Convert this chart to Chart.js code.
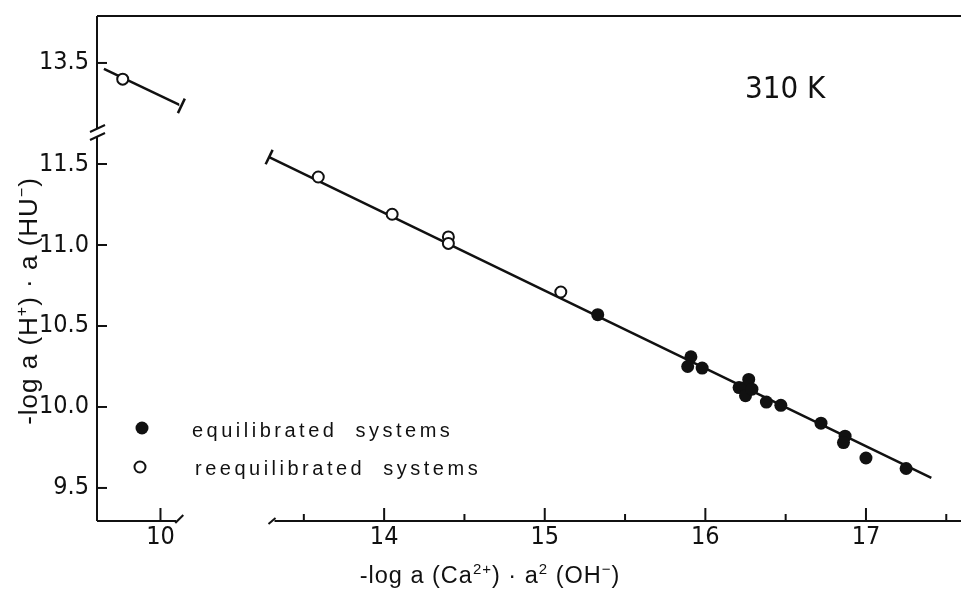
<!DOCTYPE html>
<html>
<head>
<meta charset="utf-8">
<script src="https://cdn.jsdelivr.net/npm/chart.js@4.4.1/dist/chart.umd.min.js"></script>
<style>
  html, body { margin: 0; padding: 0; background: #fff; }
  #wrap { position: relative; width: 961px; height: 591px; }
</style>
</head>
<body>
<div id="wrap"><canvas id="chart" width="961" height="591"></canvas></div>
<script>
// Values
const EQ_X = [15.33, 15.91, 15.89, 15.98, 16.21, 16.25, 16.27, 16.25, 16.29, 16.38, 16.47, 16.72, 16.87, 16.86, 17.00, 17.25];
const EQ_Y = [10.57, 10.31, 10.25, 10.24, 10.12, 10.12, 10.17, 10.07, 10.11, 10.03, 10.01, 9.90, 9.82, 9.78, 9.685, 9.62];
const REEQ_X = [13.59, 14.05, 14.40, 14.40, 15.10];
const REEQ_Y = [11.42, 11.19, 11.05, 11.01, 10.71];
// the one reequilibrated point that sits in the upper-left broken region
const REEQ_TOP_X = [9.765];
const REEQ_TOP_Y = [13.40];
// regression line (end points)
const FIT_X = [13.284, 17.407];
const FIT_Y = [11.543, 9.562];
const FIT_TOP_X = [9.648, 10.13];
const FIT_TOP_Y = [13.463, 13.235];

// Tick positions
const Y_TICKS = [9.5, 10.0, 10.5, 11.0, 11.5];
const Y_TOP_TICKS = [13.5];
const X_TICKS = [13.5, 14, 14.5, 15, 15.5, 16, 16.5, 17, 17.5];
const X_LEFT_TICKS = [10];

const INK = '#111';
const NARROW = "'Liberation Sans Narrow', 'DejaVu Sans Condensed', 'Liberation Sans', sans-serif";
const SANS = "'Liberation Sans', 'DejaVu Sans', sans-serif";

const pts = (xs, ys) => xs.map((x, i) => ({ x, y: ys[i] }));
const setTicks = list => scale => { scale.ticks = list.map(v => ({ value: v })); };

// fixed axis sizes, and no extra room for labels hanging over the ends
const fitX = sc => { sc.height = 70; sc.paddingLeft = 0; sc.paddingRight = 0; };
const fitY = sc => { sc.width = 97; sc.paddingTop = 0; sc.paddingBottom = 0; };

// draw text made of normal and superscript parts, centred on (x, y)
function richText(ctx, parts, x, y, size, angle) {
  ctx.save();
  ctx.translate(x, y);
  ctx.rotate(angle);
  ctx.letterSpacing = '1px';
  const big = size + 'px ' + SANS;
  const small = Math.round(size * 0.62) + 'px ' + SANS;
  let w = 0;
  parts.forEach(([t, sup]) => { ctx.font = sup ? small : big; w += ctx.measureText(t).width; });
  let cx = -w / 2;
  ctx.textAlign = 'left';
  ctx.textBaseline = 'alphabetic';
  ctx.fillStyle = INK;
  parts.forEach(([t, sup]) => {
    ctx.font = sup ? small : big;
    ctx.fillText(t, cx, sup ? -size * 0.4 : 0);
    cx += ctx.measureText(t).width;
  });
  ctx.restore();
}

function line(ctx, x0, y0, x1, y1) {
  ctx.beginPath();
  ctx.moveTo(x0, y0);
  ctx.lineTo(x1, y1);
  ctx.stroke();
}

// little bar across the end of a fitted line segment
function cap(ctx, meta, at, from) {
  const p = meta.data[at], q = meta.data[from];
  const dx = p.x - q.x, dy = p.y - q.y, len = Math.hypot(dx, dy);
  const nx = -dy / len * 8, ny = dx / len * 8;
  line(ctx, p.x - nx, p.y - ny, p.x + nx, p.y + ny);
}

const decor = {
  id: 'decor',
  afterDraw(chart) {
    const { ctx, chartArea: a, scales: s } = chart;
    const edge = chart.width;
    ctx.save();
    ctx.strokeStyle = INK;
    ctx.lineWidth = 2;
    ctx.lineCap = 'butt';

    // frame: top edge and y axis with a break between the two y ranges
    const brk = s.yTop.bottom;
    line(ctx, a.left, a.top, edge, a.top);
    line(ctx, a.left, a.top, a.left, brk - 2);
    line(ctx, a.left, brk + 6, a.left, a.bottom);
    line(ctx, a.left - 7, brk + 2, a.left + 8, brk - 5);
    line(ctx, a.left - 7, brk + 10, a.left + 8, brk + 3);

    // x axis in two pieces
    const xl = s.xL, xr = s.xR;
    line(ctx, a.left, a.bottom, xl.right - 3, a.bottom);
    line(ctx, xl.right - 4, a.bottom + 2, xl.right + 4, a.bottom - 6);
    line(ctx, xr.left + 6, a.bottom, edge, a.bottom);
    line(ctx, xr.left, a.bottom + 3, xr.left + 7, a.bottom - 3);

    // inward ticks
    [s.y, s.yTop].forEach(sc => sc.ticks.forEach(t => {
      const py = sc.getPixelForValue(t.value);
      line(ctx, a.left, py, a.left + 10, py);
    }));
    [xl, xr].forEach(sc => sc.ticks.forEach(t => {
      const px = sc.getPixelForValue(t.value);
      const len = Number.isInteger(t.value) ? 13 : 7;
      line(ctx, px, a.bottom, px, a.bottom - len);
    }));

    // end bars of the fitted line
    ctx.lineWidth = 2.5;
    cap(ctx, chart.getDatasetMeta(0), 0, 1);
    cap(ctx, chart.getDatasetMeta(1), 1, 0);

    // legend
    ctx.fillStyle = INK;
    ctx.beginPath();
    ctx.arc(142, 428, 6.5, 0, Math.PI * 2);
    ctx.fill();
    ctx.lineWidth = 2;
    ctx.beginPath();
    ctx.arc(140, 467, 5.5, 0, Math.PI * 2);
    ctx.stroke();
    ctx.font = '20px ' + SANS;
    ctx.letterSpacing = '3.5px';
    ctx.textAlign = 'left';
    ctx.textBaseline = 'alphabetic';
    ctx.fillText('equilibrated  systems', 192, 437);
    ctx.fillText('reequilibrated  systems', 195, 475);

    // temperature label
    ctx.font = '31px ' + NARROW;
    ctx.letterSpacing = '0px';
    ctx.fillText('310 K', 745, 98);
    ctx.restore();

    // axis titles
    richText(ctx, [['-log a (H', 0], ['+', 1], [') \u00b7 a (HU', 0], ['\u2212', 1], [')', 0]],
      37, 301, 26, -Math.PI / 2);
    richText(ctx, [['-log a (Ca', 0], ['2+', 1], [') \u00b7 a', 0], ['2', 1], [' (OH', 0], ['\u2212', 1], [')', 0]],
      490, 583, 23.5, 0);
  }
};

const tickFont = { family: NARROW, size: 25 };
const xTickOpts = {
  font: tickFont, color: INK, padding: 1, autoSkip: false, maxRotation: 0,
  callback: v => Number.isInteger(v) ? String(v) : ''
};
const yTickOpts = { font: tickFont, color: INK, padding: 8, callback: v => v.toFixed(1) };
const noGrid = { display: false, drawTicks: false };
const noBorder = { display: false };

new Chart(document.getElementById('chart'), {
  type: 'scatter',
  data: {
    datasets: [
      { label: 'fit', data: pts(FIT_X, FIT_Y), xAxisID: 'xR', yAxisID: 'y',
        showLine: true, borderColor: INK, borderWidth: 2.5, pointRadius: 0, order: 3 },
      { label: 'fit (upper)', data: pts(FIT_TOP_X, FIT_TOP_Y), xAxisID: 'xL', yAxisID: 'yTop',
        showLine: true, borderColor: INK, borderWidth: 2.5, pointRadius: 0, order: 3 },
      { label: 'equilibrated systems', data: pts(EQ_X, EQ_Y), xAxisID: 'xR', yAxisID: 'y',
        pointRadius: 6.5, backgroundColor: INK, borderWidth: 0, order: 1 },
      { label: 'reequilibrated systems', data: pts(REEQ_X, REEQ_Y), xAxisID: 'xR', yAxisID: 'y',
        pointRadius: 5.5, backgroundColor: '#fff', borderColor: INK, borderWidth: 2, order: 0 },
      { label: 'reequilibrated systems (upper)', data: pts(REEQ_TOP_X, REEQ_TOP_Y), xAxisID: 'xL', yAxisID: 'yTop',
        pointRadius: 5.5, backgroundColor: '#fff', borderColor: INK, borderWidth: 2, order: 0 }
    ]
  },
  options: {
    responsive: false,
    animation: false,
    events: [],
    layout: { padding: { top: 16, left: 0, right: 0, bottom: 0 } },
    plugins: { legend: { display: false }, title: { display: false }, tooltip: { enabled: false } },
    scales: {
      xL: { type: 'linear', axis: 'x', position: 'bottom', stack: 'x', stackWeight: 83,
        min: 9.605, max: 10.117, afterBuildTicks: setTicks(X_LEFT_TICKS),
        ticks: xTickOpts, grid: noGrid, border: noBorder, afterFit: fitX },
      xGap: { type: 'linear', axis: 'x', position: 'bottom', stack: 'x', stackWeight: 90,
        min: 0, max: 1, afterBuildTicks: setTicks([]),
        ticks: { display: false }, grid: noGrid, border: noBorder, afterFit: fitX },
      xR: { type: 'linear', axis: 'x', position: 'bottom', stack: 'x', stackWeight: 691,
        min: 13.28, max: 17.545, afterBuildTicks: setTicks(X_TICKS),
        ticks: xTickOpts, grid: noGrid, border: noBorder, afterFit: fitX },
      y: { type: 'linear', axis: 'y', position: 'left', stack: 'y', stackWeight: 391,
        min: 9.296, max: 11.71, afterBuildTicks: setTicks(Y_TICKS),
        ticks: yTickOpts, grid: noGrid, border: noBorder, afterFit: fitY },
      yTop: { type: 'linear', axis: 'y', position: 'left', stack: 'y', stackWeight: 114,
        min: 13.086, max: 13.79, afterBuildTicks: setTicks(Y_TOP_TICKS),
        ticks: yTickOpts, grid: noGrid, border: noBorder, afterFit: fitY }
    }
  },
  plugins: [decor]
});
</script>
</body>
</html>
